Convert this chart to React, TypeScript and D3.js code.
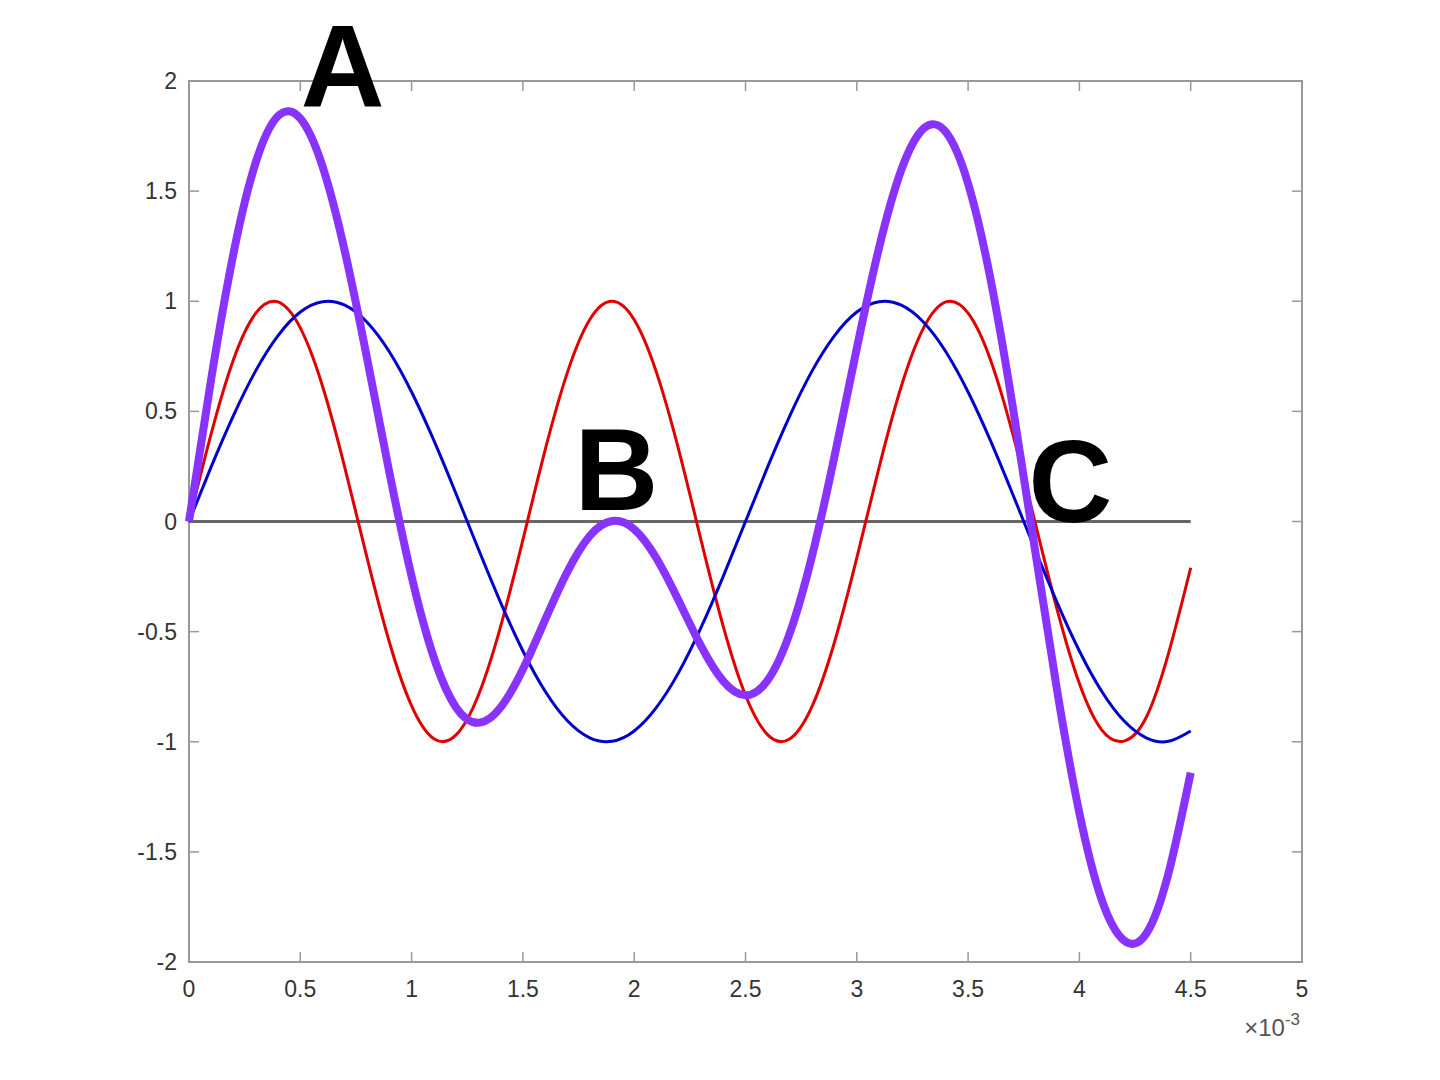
import React, { useEffect, useRef } from 'react';
import * as d3 from 'd3';

// time samples (ms, axis shows ×10^-3)
const times = [
  0, 0.1, 0.2, 0.3, 0.4, 0.5, 0.6, 0.7, 0.8, 0.9,
  1.0, 1.1, 1.2, 1.3, 1.4, 1.5, 1.6, 1.7, 1.8, 1.9,
  2.0, 2.1, 2.2, 2.3, 2.4, 2.5, 2.6, 2.7, 2.8, 2.9,
  3.0, 3.1, 3.2, 3.3, 3.4, 3.5, 3.6, 3.7, 3.8, 3.9,
  4.0, 4.1, 4.2, 4.3, 4.4, 4.5,
];

const redValues = [
  0, 0.40, 0.736, 0.946, 0.997, 0.879, 0.614, 0.245, -0.165, -0.547,
  -0.837, -0.986, -0.969, -0.789, -0.476, -0.083, 0.325, 0.677, 0.916, 1.0,
  0.916, 0.677, 0.325, -0.083, -0.476, -0.789, -0.969, -0.986, -0.837, -0.547,
  -0.165, 0.245, 0.614, 0.879, 0.997, 0.946, 0.736, 0.40, 0, -0.40,
  -0.736, -0.946, -0.997, -0.890, -0.600, -0.210,
];

const blueValues = [
  0, 0.249, 0.482, 0.685, 0.844, 0.951, 0.998, 0.982, 0.905, 0.771,
  0.588, 0.368, 0.125, -0.125, -0.368, -0.588, -0.771, -0.905, -0.982, -0.998,
  -0.951, -0.844, -0.685, -0.482, -0.249, 0, 0.249, 0.482, 0.685, 0.844,
  0.951, 0.998, 0.982, 0.905, 0.771, 0.588, 0.368, 0.125, -0.125, -0.368,
  -0.588, -0.771, -0.905, -0.982, -0.998, -0.951,
];

const purpleValues = [
  0, 0.649, 1.218, 1.631, 1.841, 1.830, 1.612, 1.227, 0.740, 0.224,
  -0.249, -0.618, -0.844, -0.914, -0.844, -0.671, -0.446, -0.228, -0.066, 0.002,
  -0.035, -0.167, -0.360, -0.565, -0.725, -0.789, -0.720, -0.504, -0.152, 0.297,
  0.786, 1.243, 1.596, 1.784, 1.768, 1.534, 1.104, 0.525, -0.125, -0.768,
  -1.324, -1.717, -1.902, -1.872, -1.598, -1.140,
];

const xTicks = [0, 0.5, 1, 1.5, 2, 2.5, 3, 3.5, 4, 4.5, 5];
const yTicks = [-2, -1.5, -1, -0.5, 0, 0.5, 1, 1.5, 2];

const annotations = [
  { label: 'A', t: 0.69, v: 1.88 },
  { label: 'B', t: 1.92, v: 0.05 },
  { label: 'C', t: 3.96, v: 0.0 },
];

export default function App() {
  const svgRef = useRef<SVGSVGElement>(null);

  useEffect(() => {
    if (!svgRef.current) return;
    const svg = d3.select(svgRef.current);
    svg.selectAll('*').remove();

    const left = 189, right = 1302, top = 81, bottom = 962;
    const x = d3.scaleLinear().domain([0, 5]).range([left, right]);
    const y = d3.scaleLinear().domain([-2, 2]).range([bottom, top]);
    const font = 'Liberation Sans, Arial, Helvetica, sans-serif';
    const axisColor = '#999';
    const tickLen = 10;

    // box
    svg.append('rect')
      .attr('x', left).attr('y', top)
      .attr('width', right - left).attr('height', bottom - top)
      .attr('fill', 'white')
      .attr('stroke', axisColor).attr('stroke-width', 2);

    // ticks on all four sides
    const g = svg.append('g').attr('stroke', axisColor).attr('stroke-width', 1.5);
    xTicks.forEach(t => {
      g.append('line').attr('x1', x(t)).attr('x2', x(t)).attr('y1', bottom).attr('y2', bottom - tickLen);
      g.append('line').attr('x1', x(t)).attr('x2', x(t)).attr('y1', top).attr('y2', top + tickLen);
    });
    yTicks.forEach(v => {
      g.append('line').attr('x1', left).attr('x2', left + tickLen).attr('y1', y(v)).attr('y2', y(v));
      g.append('line').attr('x1', right).attr('x2', right - tickLen).attr('y1', y(v)).attr('y2', y(v));
    });

    // tick labels
    svg.append('g').selectAll('text')
      .data(xTicks)
      .join('text')
      .attr('x', d => x(d))
      .attr('y', bottom + 35)
      .attr('text-anchor', 'middle')
      .attr('font-family', font)
      .attr('font-size', 23)
      .attr('fill', '#333')
      .text(d => String(d));

    svg.append('g').selectAll('text')
      .data(yTicks)
      .join('text')
      .attr('x', left - 12)
      .attr('y', d => y(d) + 8)
      .attr('text-anchor', 'end')
      .attr('font-family', font)
      .attr('font-size', 23)
      .attr('fill', '#333')
      .text(d => String(d));

    // exponent label
    const exp = svg.append('text')
      .attr('x', right - 2)
      .attr('y', 1036)
      .attr('text-anchor', 'end')
      .attr('font-family', font)
      .attr('font-size', 24)
      .attr('fill', '#555');
    exp.append('tspan').text('×10');
    exp.append('tspan').attr('dy', -11).attr('font-size', 17).text('-3');

    // zero line
    svg.append('line')
      .attr('x1', x(0)).attr('x2', x(4.5))
      .attr('y1', y(0)).attr('y2', y(0))
      .attr('stroke', '#666').attr('stroke-width', 3);

    const line = (vals: number[]) =>
      d3.line<number>()
        .x((_, i) => x(times[i]))
        .y(d => y(d))
        .curve(d3.curveNatural)(vals);

    svg.append('path').attr('d', line(redValues))
      .attr('fill', 'none').attr('stroke', '#e00000').attr('stroke-width', 3);
    svg.append('path').attr('d', line(blueValues))
      .attr('fill', 'none').attr('stroke', '#0000cc').attr('stroke-width', 3);
    svg.append('path').attr('d', line(purpleValues))
      .attr('fill', 'none').attr('stroke', '#8833ff').attr('stroke-width', 8)
      .attr('stroke-linejoin', 'round');

    // letter annotations
    svg.append('g').selectAll('text')
      .data(annotations)
      .join('text')
      .attr('x', d => x(d.t))
      .attr('y', d => y(d.v))
      .attr('text-anchor', 'middle')
      .attr('font-family', font)
      .attr('font-weight', 'bold')
      .attr('font-size', 116)
      .attr('fill', 'black')
      .text(d => d.label);
  }, []);

  return (
    <div style={{ margin: -8 }}>
      <svg ref={svgRef} width={1440} height={1080} style={{ display: 'block', background: 'white' }}></svg>
    </div>
  );
}
